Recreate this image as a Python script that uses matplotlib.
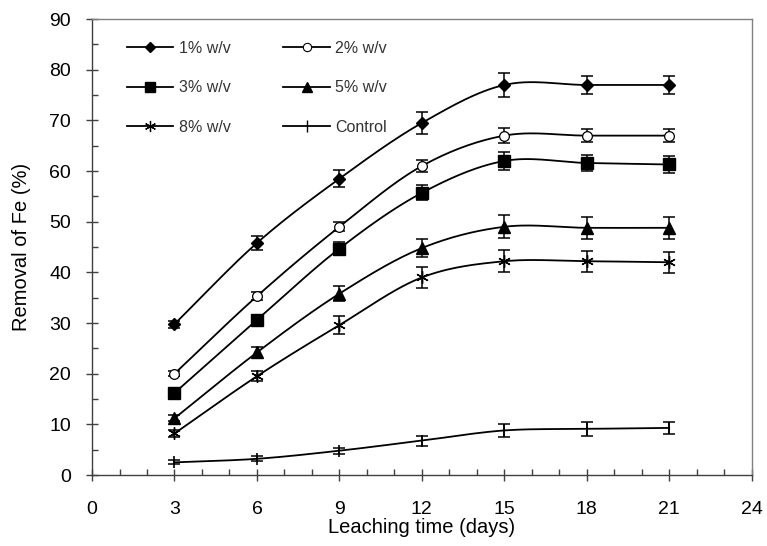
import numpy as np
import matplotlib
matplotlib.use("Agg")
import matplotlib.pyplot as plt
from matplotlib.lines import Line2D

plt.rcParams['font.family'] = ['Liberation Sans', 'DejaVu Sans']

days = [3, 6, 9, 12, 15, 18, 21]
labels = ['1% w/v', '2% w/v', '3% w/v', '5% w/v', '8% w/v', 'Control']
fe_1 = [29.8, 45.8, 58.5, 69.5, 77.0, 77.0, 77.0]
fe_2 = [20.0, 35.3, 49.0, 61.0, 67.0, 67.0, 67.0]
fe_3 = [16.2, 30.6, 44.7, 55.7, 62.0, 61.6, 61.3]
fe_5 = [11.2, 24.2, 35.8, 44.8, 49.0, 48.8, 48.8]
fe_8 = [8.2, 19.5, 29.6, 39.0, 42.2, 42.2, 42.0]
fe_c = [2.5, 3.2, 4.8, 6.8, 8.8, 9.1, 9.3]
err_1 = [0.7, 1.3, 1.7, 2.2, 2.3, 1.8, 1.8]
err_2 = [0.5, 0.8, 0.9, 1.2, 1.5, 1.3, 1.3]
err_3 = [0.6, 0.9, 1.3, 1.5, 1.8, 1.6, 1.6]
err_5 = [0.6, 1.0, 1.5, 1.8, 2.3, 2.2, 2.2]
err_8 = [0.6, 1.0, 1.7, 2.1, 2.2, 2.1, 2.1]
err_c = [0.4, 0.5, 0.6, 1.0, 1.3, 1.3, 1.2]

series = [fe_1, fe_2, fe_3, fe_5, fe_8, fe_c]
errors = [err_1, err_2, err_3, err_5, err_8, err_c]
markers = [
    dict(marker='D', ms=6, mfc='black', mec='black'),
    dict(marker='o', ms=7, mfc='white', mec='black', mew=0.9),
    dict(marker='s', ms=8, mfc='black', mec='black'),
    dict(marker='^', ms=8, mfc='black', mec='black'),
    dict(marker=(6, 2, 0), ms=9, mfc='black', mec='black', mew=1.0),
    dict(marker='|', ms=9, mfc='black', mec='black', mew=1.2),
]
leg_markers = [
    dict(marker='D', ms=5.5, mfc='black', mec='black'),
    dict(marker='o', ms=6, mfc='white', mec='black', mew=0.8),
    dict(marker='s', ms=7.5, mfc='black', mec='black'),
    dict(marker='^', ms=6.5, mfc='black', mec='black'),
    dict(marker=(6, 2, 0), ms=8, mfc='black', mec='black', mew=0.9),
    dict(marker='|', ms=8, mfc='black', mec='black', mew=1.0),
]


def smooth(x, y, n=30):
    # Excel-like smoothed line (Catmull-Rom Bezier) through the data points
    x = np.asarray(x, float); y = np.asarray(y, float)
    px = np.concatenate([[2 * x[0] - x[1]], x, [2 * x[-1] - x[-2]]])
    py = np.concatenate([[2 * y[0] - y[1]], y, [2 * y[-1] - y[-2]]])
    xs, ys = [], []
    t = np.linspace(0, 1, n)
    for i in range(1, len(px) - 2):
        p0x, p1x, p2x, p3x = px[i - 1:i + 3]
        p0y, p1y, p2y, p3y = py[i - 1:i + 3]
        b1x = p1x + (p2x - p0x) / 6; b1y = p1y + (p2y - p0y) / 6
        b2x = p2x - (p3x - p1x) / 6; b2y = p2y - (p3y - p1y) / 6
        bx = (1 - t) ** 3 * p1x + 3 * (1 - t) ** 2 * t * b1x + 3 * (1 - t) * t ** 2 * b2x + t ** 3 * p2x
        by = (1 - t) ** 3 * p1y + 3 * (1 - t) ** 2 * t * b1y + 3 * (1 - t) * t ** 2 * b2y + t ** 3 * p2y
        xs.append(bx); ys.append(by)
    return np.concatenate(xs), np.concatenate(ys)


fig = plt.figure(figsize=(7.67, 5.46), dpi=100)
ax = fig.add_axes([0.12, 0.13, 0.86, 0.835])

handles = []
for y, e, m, lm, lab in zip(series, errors, markers, leg_markers, labels):
    sx, sy = smooth(days, y)
    ax.plot(sx, sy, color='black', lw=1.3, zorder=2)
    ax.errorbar(days, y, yerr=e, fmt='none', ecolor='black', elinewidth=1.1, capsize=4, capthick=1.1, zorder=3)
    ax.plot(days, y, linestyle='none', zorder=4, **m)
    handles.append(Line2D([], [], color='black', lw=1.3, **lm))

ax.set_xlim(0, 24)
ax.set_ylim(0, 90)
ax.set_xticks(range(0, 25, 3))
ax.set_xticks(range(0, 25, 1), minor=True)
ax.set_yticks(range(0, 91, 10))
ax.set_yticks(range(5, 91, 10), minor=True)
for s in ax.spines.values():
    s.set_color('#808080')
    s.set_linewidth(1.0)
ax.spines['left'].set_color('#404040')
ax.spines['bottom'].set_color('#404040')
ax.tick_params(which='major', direction='inout', length=8, width=1, color='#404040', labelsize=14)
ax.tick_params(axis='x', which='major', pad=15)
ax.tick_params(axis='y', which='major', pad=11)
ax.tick_params(which='minor', direction='in', length=4, width=1, color='#404040')
ax.set_xlabel('Leaching time (days)', fontsize=14.5, labelpad=0)
ax.set_ylabel('Removal of Fe (%)', fontsize=14.5, labelpad=13)

# legend in row-major order: 1%,2% / 3%,5% / 8%,Control
order = [0, 2, 4, 1, 3, 5]
leg = ax.legend([handles[i] for i in order], [labels[i] for i in order], ncol=2,
                loc='upper left', bbox_to_anchor=(0.053, 0.953), borderpad=0, borderaxespad=0,
                frameon=False, fontsize=11.5, handlelength=2.9, columnspacing=3.3,
                labelspacing=1.55, handletextpad=0.35)
for t in leg.get_texts():
    t.set_color('#333333')

fig.savefig('out.png', dpi=100)
